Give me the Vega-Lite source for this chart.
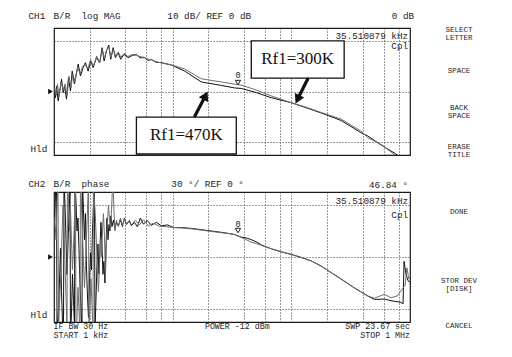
{
  "$schema": "https://vega.github.io/schema/vega-lite/v6.json",
  "background": "white",
  "padding": {"left": 27, "top": 11, "right": 0, "bottom": 0},
  "bounds": "flush",
  "spacing": 37,
  "config": {
    "view": {"stroke": "#1a1a1a", "strokeWidth": 1.2},
    "axis": {"labels": false, "ticks": false, "domain": false, "grid": true, "gridColor": "#3a3a3a", "gridDash": [1, 2], "gridWidth": 1, "gridOpacity": 1}
  },
  "datasets": {
    "mag": [
      {"f":1010,"db":-1,"rf":"470K"},{"f":1030,"db":-4.9,"rf":"470K"},{"f":1050,"db":4.3,"rf":"470K"},{"f":1085,"db":-7.5,"rf":"470K"},{"f":1157,"db":9.6,"rf":"470K"},{"f":1195,"db":-0.9,"rf":"470K"},{"f":1226,"db":4.3,"rf":"470K"},{"f":1274,"db":-6,"rf":"470K"},{"f":1324,"db":10.9,"rf":"470K"},{"f":1377,"db":0.4,"rf":"470K"},{"f":1423,"db":16,"rf":"470K"},{"f":1488,"db":5.9,"rf":"470K"},{"f":1599,"db":21.7,"rf":"470K"},{"f":1671,"db":12.2,"rf":"470K"},{"f":1761,"db":18.8,"rf":"470K"},{"f":1841,"db":22.7,"rf":"470K"},{"f":1940,"db":16,"rf":"470K"},{"f":2040,"db":24,"rf":"470K"},{"f":2137,"db":18.8,"rf":"470K"},{"f":2279,"db":26.6,"rf":"470K"},{"f":2429,"db":22.7,"rf":"470K"},{"f":2544,"db":34.5,"rf":"470K"},{"f":2645,"db":24,"rf":"470K"},{"f":2766,"db":31.9,"rf":"470K"},{"f":2892,"db":36.6,"rf":"470K"},{"f":3006,"db":25.4,"rf":"470K"},{"f":3150,"db":34.5,"rf":"470K"},{"f":3293,"db":26.6,"rf":"470K"},{"f":3470,"db":30.6,"rf":"470K"},{"f":3649,"db":25.4,"rf":"470K"},{"f":3897,"db":29.3,"rf":"470K"},{"f":4211,"db":26.6,"rf":"470K"},{"f":4489,"db":28,"rf":"470K"},{"f":4947,"db":29.3,"rf":"470K"},{"f":5273,"db":26.6,"rf":"470K"},{"f":5807,"db":26.6,"rf":"470K"},{"f":6200,"db":24.5,"rf":"470K"},{"f":6615,"db":25.2,"rf":"470K"},{"f":7200,"db":23,"rf":"470K"},{"f":8029,"db":22.7,"rf":"470K"},{"f":9745,"db":20.9,"rf":"470K"},{"f":12610,"db":16.1,"rf":"470K"},{"f":17430,"db":7.5,"rf":"470K"},{"f":25670,"db":4.8,"rf":"470K"},{"f":33230,"db":2.8,"rf":"470K"},{"f":37840,"db":2.4,"rf":"470K"},{"f":50600,"db":-0.8,"rf":"470K"},{"f":67700,"db":-4.9,"rf":"470K"},{"f":99700,"db":-8.8,"rf":"470K"},{"f":133400,"db":-12.8,"rf":"470K"},{"f":178400,"db":-16.9,"rf":"470K"},{"f":262800,"db":-22.8,"rf":"470K"},{"f":385800,"db":-32.4,"rf":"470K"},{"f":440800,"db":-35,"rf":"470K"},{"f":570500,"db":-42.1,"rf":"470K"},{"f":738000,"db":-48.4,"rf":"470K"},{"f":1000000,"db":-57,"rf":"470K"},
      {"f":1016,"db":2,"rf":"300K"},{"f":1045,"db":-3,"rf":"300K"},{"f":1070,"db":6,"rf":"300K"},{"f":1100,"db":-4,"rf":"300K"},{"f":1150,"db":7,"rf":"300K"},{"f":1200,"db":1,"rf":"300K"},{"f":1240,"db":6,"rf":"300K"},{"f":1290,"db":-3,"rf":"300K"},{"f":1340,"db":12,"rf":"300K"},{"f":1390,"db":3,"rf":"300K"},{"f":1440,"db":14,"rf":"300K"},{"f":1500,"db":8,"rf":"300K"},{"f":1580,"db":19,"rf":"300K"},{"f":1660,"db":14,"rf":"300K"},{"f":1750,"db":20,"rf":"300K"},{"f":1830,"db":21,"rf":"300K"},{"f":1930,"db":18,"rf":"300K"},{"f":2030,"db":25,"rf":"300K"},{"f":2150,"db":20,"rf":"300K"},{"f":2290,"db":28,"rf":"300K"},{"f":2420,"db":23,"rf":"300K"},{"f":2560,"db":33,"rf":"300K"},{"f":2660,"db":26,"rf":"300K"},{"f":2780,"db":33,"rf":"300K"},{"f":2900,"db":35,"rf":"300K"},{"f":3020,"db":27,"rf":"300K"},{"f":3160,"db":33,"rf":"300K"},{"f":3300,"db":28,"rf":"300K"},{"f":3480,"db":31,"rf":"300K"},{"f":3660,"db":27,"rf":"300K"},{"f":3900,"db":30,"rf":"300K"},{"f":4200,"db":27.5,"rf":"300K"},{"f":4500,"db":29,"rf":"300K"},{"f":4950,"db":28.5,"rf":"300K"},{"f":5300,"db":27.5,"rf":"300K"},{"f":5807,"db":26.8,"rf":"300K"},{"f":6200,"db":25.5,"rf":"300K"},{"f":6615,"db":25,"rf":"300K"},{"f":7200,"db":23.5,"rf":"300K"},{"f":8029,"db":22.5,"rf":"300K"},{"f":9745,"db":21,"rf":"300K"},{"f":12610,"db":17.7,"rf":"300K"},{"f":17430,"db":10,"rf":"300K"},{"f":25670,"db":7.5,"rf":"300K"},{"f":33230,"db":5.8,"rf":"300K"},{"f":37840,"db":5.0,"rf":"300K"},{"f":50600,"db":1.2,"rf":"300K"},{"f":67700,"db":-3.5,"rf":"300K"},{"f":99700,"db":-8.8,"rf":"300K"},{"f":133400,"db":-12.4,"rf":"300K"},{"f":178400,"db":-16.5,"rf":"300K"},{"f":262800,"db":-21.7,"rf":"300K"},{"f":385800,"db":-31.1,"rf":"300K"},{"f":440800,"db":-36.4,"rf":"300K"},{"f":570500,"db":-41.6,"rf":"300K"},{"f":738000,"db":-49.5,"rf":"300K"},{"f":1000000,"db":-58,"rf":"300K"}
    ],
    "phase": [
      {"f":1016,"deg":83,"rf":"470K"},{"f":1030,"deg":150,"rf":"470K"},{"f":1050,"deg":170,"rf":"470K"},{"f":1060,"deg":-170,"rf":"470K"},{"f":1091,"deg":-120,"rf":"470K"},{"f":1112,"deg":-60,"rf":"470K"},{"f":1134,"deg":20,"rf":"470K"},{"f":1157,"deg":-80,"rf":"470K"},{"f":1179,"deg":-150,"rf":"470K"},{"f":1202,"deg":-175,"rf":"470K"},{"f":1214,"deg":175,"rf":"470K"},{"f":1238,"deg":120,"rf":"470K"},{"f":1262,"deg":40,"rf":"470K"},{"f":1287,"deg":-40,"rf":"470K"},{"f":1312,"deg":30,"rf":"470K"},{"f":1337,"deg":100,"rf":"470K"},{"f":1364,"deg":160,"rf":"470K"},{"f":1377,"deg":-178,"rf":"470K"},{"f":1404,"deg":-130,"rf":"470K"},{"f":1431,"deg":-40,"rf":"470K"},{"f":1459,"deg":-100,"rf":"470K"},{"f":1488,"deg":-160,"rf":"470K"},{"f":1502,"deg":178,"rf":"470K"},{"f":1532,"deg":130,"rf":"470K"},{"f":1562,"deg":60,"rf":"470K"},{"f":1592,"deg":90,"rf":"470K"},{"f":1623,"deg":20,"rf":"470K"},{"f":1655,"deg":-60,"rf":"470K"},{"f":1688,"deg":-120,"rf":"470K"},{"f":1721,"deg":-178,"rf":"470K"},{"f":1737,"deg":178,"rf":"470K"},{"f":1771,"deg":110,"rf":"470K"},{"f":1806,"deg":40,"rf":"470K"},{"f":1841,"deg":100,"rf":"470K"},{"f":1877,"deg":-20,"rf":"470K"},{"f":1914,"deg":-90,"rf":"470K"},{"f":1952,"deg":-140,"rf":"470K"},{"f":1990,"deg":-60,"rf":"470K"},{"f":2029,"deg":10,"rf":"470K"},{"f":2069,"deg":-30,"rf":"470K"},{"f":2109,"deg":60,"rf":"470K"},{"f":2150,"deg":120,"rf":"470K"},{"f":2192,"deg":170,"rf":"470K"},{"f":2214,"deg":-175,"rf":"470K"},{"f":2257,"deg":-100,"rf":"470K"},{"f":2301,"deg":-20,"rf":"470K"},{"f":2346,"deg":30,"rf":"470K"},{"f":2392,"deg":-40,"rf":"470K"},{"f":2439,"deg":20,"rf":"470K"},{"f":2487,"deg":80,"rf":"470K"},{"f":2535,"deg":30,"rf":"470K"},{"f":2585,"deg":-40,"rf":"470K"},{"f":2636,"deg":-10,"rf":"470K"},{"f":2687,"deg":-60,"rf":"470K"},{"f":2740,"deg":20,"rf":"470K"},{"f":2793,"deg":90,"rf":"470K"},{"f":2848,"deg":40,"rf":"470K"},{"f":2904,"deg":75,"rf":"470K"},{"f":2960,"deg":60,"rf":"470K"},{"f":3018,"deg":95,"rf":"470K"},{"f":3078,"deg":70,"rf":"470K"},{"f":3168,"deg":85,"rf":"470K"},{"f":3262,"deg":65,"rf":"470K"},{"f":3358,"deg":80,"rf":"470K"},{"f":3491,"deg":72,"rf":"470K"},{"f":3629,"deg":86,"rf":"470K"},{"f":3772,"deg":70,"rf":"470K"},{"f":3921,"deg":90,"rf":"470K"},{"f":4076,"deg":75,"rf":"470K"},{"f":4320,"deg":84,"rf":"470K"},{"f":4491,"deg":72,"rf":"470K"},{"f":4760,"deg":80,"rf":"470K"},{"f":5045,"deg":70,"rf":"470K"},{"f":5347,"deg":90,"rf":"470K"},{"f":5667,"deg":76,"rf":"470K"},{"f":6124,"deg":84,"rf":"470K"},{"f":6617,"deg":73,"rf":"470K"},{"f":7291,"deg":80,"rf":"470K"},{"f":8033,"deg":72,"rf":"470K"},{"f":9023,"deg":74,"rf":"470K"},{"f":10135,"deg":68,"rf":"470K"},{"f":11835,"deg":68,"rf":"470K"},{"f":14367,"deg":66,"rf":"470K"},{"f":17440,"deg":63,"rf":"470K"},{"f":21170,"deg":60,"rf":"470K"},{"f":25700,"deg":57,"rf":"470K"},{"f":30010,"deg":54,"rf":"470K"},{"f":33060,"deg":52,"rf":"470K"},{"f":37860,"deg":46,"rf":"470K"},{"f":41720,"deg":44,"rf":"470K"},{"f":45960,"deg":40,"rf":"470K"},{"f":50640,"deg":35,"rf":"470K"},{"f":55790,"deg":28,"rf":"470K"},{"f":67720,"deg":19,"rf":"470K"},{"f":82210,"deg":12,"rf":"470K"},{"f":99800,"deg":6,"rf":"470K"},{"f":121100,"deg":-1,"rf":"470K"},{"f":147100,"deg":-9,"rf":"470K"},{"f":178500,"deg":-21,"rf":"470K"},{"f":216700,"deg":-36,"rf":"470K"},{"f":263100,"deg":-51,"rf":"470K"},{"f":338400,"deg":-71,"rf":"470K"},{"f":441200,"deg":-90,"rf":"470K"},{"f":501400,"deg":-98,"rf":"470K"},{"f":608600,"deg":-97,"rf":"470K"},{"f":692900,"deg":-101,"rf":"470K"},{"f":778000,"deg":-103,"rf":"470K"},{"f":840700,"deg":-105,"rf":"470K"},{"f":874000,"deg":-108,"rf":"470K"},{"f":891000,"deg":-10,"rf":"470K"},{"f":926000,"deg":-40,"rf":"470K"},{"f":962800,"deg":-55,"rf":"470K"},{"f":1000000,"deg":-58,"rf":"470K"},
      {"f":1016,"deg":90,"rf":"300K"},{"f":1040,"deg":40,"rf":"300K"},{"f":1060,"deg":120,"rf":"300K"},{"f":1081,"deg":170,"rf":"300K"},{"f":1091,"deg":-178,"rf":"300K"},{"f":1112,"deg":-110,"rf":"300K"},{"f":1145,"deg":-30,"rf":"300K"},{"f":1168,"deg":50,"rf":"300K"},{"f":1191,"deg":120,"rf":"300K"},{"f":1214,"deg":60,"rf":"300K"},{"f":1238,"deg":-20,"rf":"300K"},{"f":1262,"deg":-90,"rf":"300K"},{"f":1287,"deg":-165,"rf":"300K"},{"f":1299,"deg":175,"rf":"300K"},{"f":1325,"deg":130,"rf":"300K"},{"f":1350,"deg":60,"rf":"300K"},{"f":1377,"deg":110,"rf":"300K"},{"f":1404,"deg":40,"rf":"300K"},{"f":1431,"deg":-30,"rf":"300K"},{"f":1459,"deg":20,"rf":"300K"},{"f":1488,"deg":90,"rf":"300K"},{"f":1517,"deg":150,"rf":"300K"},{"f":1532,"deg":-178,"rf":"300K"},{"f":1562,"deg":-140,"rf":"300K"},{"f":1592,"deg":-70,"rf":"300K"},{"f":1623,"deg":-120,"rf":"300K"},{"f":1655,"deg":-178,"rf":"300K"},{"f":1671,"deg":176,"rf":"300K"},{"f":1704,"deg":120,"rf":"300K"},{"f":1737,"deg":60,"rf":"300K"},{"f":1771,"deg":-10,"rf":"300K"},{"f":1806,"deg":-70,"rf":"300K"},{"f":1841,"deg":-20,"rf":"300K"},{"f":1877,"deg":40,"rf":"300K"},{"f":1914,"deg":110,"rf":"300K"},{"f":1952,"deg":170,"rf":"300K"},{"f":1971,"deg":-172,"rf":"300K"},{"f":2009,"deg":-110,"rf":"300K"},{"f":2049,"deg":-50,"rf":"300K"},{"f":2089,"deg":-110,"rf":"300K"},{"f":2130,"deg":-160,"rf":"300K"},{"f":2150,"deg":178,"rf":"300K"},{"f":2192,"deg":130,"rf":"300K"},{"f":2235,"deg":90,"rf":"300K"},{"f":2279,"deg":30,"rf":"300K"},{"f":2324,"deg":-30,"rf":"300K"},{"f":2369,"deg":-80,"rf":"300K"},{"f":2415,"deg":-20,"rf":"300K"},{"f":2463,"deg":40,"rf":"300K"},{"f":2511,"deg":0,"rf":"300K"},{"f":2560,"deg":60,"rf":"300K"},{"f":2610,"deg":100,"rf":"300K"},{"f":2661,"deg":50,"rf":"300K"},{"f":2713,"deg":-50,"rf":"300K"},{"f":2766,"deg":30,"rf":"300K"},{"f":2821,"deg":80,"rf":"300K"},{"f":2876,"deg":120,"rf":"300K"},{"f":2932,"deg":90,"rf":"300K"},{"f":2989,"deg":60,"rf":"300K"},{"f":3048,"deg":100,"rf":"300K"},{"f":3108,"deg":160,"rf":"300K"},{"f":3138,"deg":178,"rf":"300K"},{"f":3199,"deg":110,"rf":"300K"},{"f":3262,"deg":60,"rf":"300K"},{"f":3358,"deg":85,"rf":"300K"},{"f":3491,"deg":70,"rf":"300K"},{"f":3629,"deg":90,"rf":"300K"},{"f":3772,"deg":72,"rf":"300K"},{"f":3921,"deg":88,"rf":"300K"},{"f":4076,"deg":76,"rf":"300K"},{"f":4237,"deg":82,"rf":"300K"},{"f":4491,"deg":74,"rf":"300K"},{"f":4853,"deg":85,"rf":"300K"},{"f":5244,"deg":74,"rf":"300K"},{"f":5667,"deg":86,"rf":"300K"},{"f":6244,"deg":72,"rf":"300K"},{"f":6879,"deg":78,"rf":"300K"},{"f":7727,"deg":71,"rf":"300K"},{"f":8850,"deg":70,"rf":"300K"},{"f":10135,"deg":68,"rf":"300K"},{"f":11835,"deg":67,"rf":"300K"},{"f":14367,"deg":65,"rf":"300K"},{"f":17440,"deg":62,"rf":"300K"},{"f":21170,"deg":59,"rf":"300K"},{"f":25700,"deg":56,"rf":"300K"},{"f":30010,"deg":54,"rf":"300K"},{"f":33060,"deg":52,"rf":"300K"},{"f":37860,"deg":45,"rf":"300K"},{"f":41720,"deg":40,"rf":"300K"},{"f":45960,"deg":34,"rf":"300K"},{"f":50640,"deg":31,"rf":"300K"},{"f":55790,"deg":27,"rf":"300K"},{"f":67720,"deg":19,"rf":"300K"},{"f":82210,"deg":12,"rf":"300K"},{"f":99800,"deg":6,"rf":"300K"},{"f":121100,"deg":-1,"rf":"300K"},{"f":147100,"deg":-9,"rf":"300K"},{"f":178500,"deg":-21,"rf":"300K"},{"f":216700,"deg":-36,"rf":"300K"},{"f":263100,"deg":-51,"rf":"300K"},{"f":338400,"deg":-71,"rf":"300K"},{"f":441200,"deg":-90,"rf":"300K"},{"f":501400,"deg":-95,"rf":"300K"},{"f":608600,"deg":-86,"rf":"300K"},{"f":692900,"deg":-94,"rf":"300K"},{"f":778000,"deg":-90,"rf":"300K"},{"f":840700,"deg":-78,"rf":"300K"},{"f":908500,"deg":-65,"rf":"300K"},{"f":944000,"deg":-25,"rf":"300K"},{"f":975000,"deg":-50,"rf":"300K"},{"f":1000000,"deg":-48,"rf":"300K"}
    ],
    "topL": [
      {"f":610,"v":59.1,"t":"CH1"},{"f":990,"v":59.1,"t":"B/R"},{"f":1704,"v":59.1,"t":"log MAG"},{"f":9023,"v":59.1,"t":"10 dB/ REF 0 dB"},{"f":634,"v":-45.3,"t":"Hld"}
    ],
    "topR": [
      {"f":1082000,"v":59.1,"t":"0 dB"},{"f":962800,"v":43.7,"t":"35.510879 kHz"},{"f":962800,"v":35.8,"t":"Cpl"}
    ],
    "topSide": [
      {"f":2589000,"v":48.4,"t":"SELECT"},{"f":2589000,"v":42.1,"t":"LETTER"},{"f":2589000,"v":16.1,"t":"SPACE"},{"f":2589000,"v":-13,"t":"BACK"},{"f":2589000,"v":-19.3,"t":"SPACE"},{"f":2589000,"v":-43.7,"t":"ERASE"},{"f":2589000,"v":-50,"t":"TITLE"}
    ],
    "botL": [
      {"f":610,"v":168.5,"t":"CH2"},{"f":990,"v":168.5,"t":"B/R"},{"f":1704,"v":168.5,"t":"phase"},{"f":9750,"v":168.5,"t":"30 °/ REF 0 °"},{"f":634,"v":-133.8,"t":"Hld"}
    ],
    "botR": [
      {"f":962800,"v":166.2,"t":"46.84 °"},{"f":962800,"v":129.2,"t":"35.510879 kHz"},{"f":962800,"v":96.9,"t":"Cpl"}
    ],
    "footL": [
      {"f":990,"v":-160.5,"t":"IF BW 30 Hz"},{"f":990,"v":-183,"t":"START  1 kHz"}
    ],
    "footR": [
      {"f":1001000,"v":-160.5,"t":"SWP 23.67 sec"},{"f":1001000,"v":-183,"t":"STOP  1 MHz"}
    ],
    "footC": [
      {"f":35030,"v":-160.5,"t":"POWER -12 dBm"}
    ],
    "botSide": [
      {"f":2589000,"v":103.8,"t":"DONE"},{"f":2589000,"v":-55.4,"t":"STOR DEV"},{"f":2589000,"v":-73.8,"t":"[DISK]"},{"f":2589000,"v":-159.2,"t":"CANCEL"}
    ],
    "topMarker": [{"f":35510,"v":7,"t":"0","tv":13}],
    "botMarker": [{"f":35510,"v":61,"t":"0","tv":77}],
    "topRef": [{"f":934,"v":0}],
    "botRef": [{"f":934,"v":0}],
    "boxes": [
      {"f1":45960,"f2":278700,"v1":39.8,"v2":10.6,"f":113200,"v":25.2,"t":"Rf1=300K"},
      {"f1":4948,"f2":34370,"v1":-20.1,"v2":-49.2,"f":13040,"v":-34.6,"t":"Rf1=470K"}
    ],
    "arrows": [
      {"a":"300K","f1":138700,"v1":10.6,"f2":114300,"v2":-5.1},
      {"a":"470K","f1":15230,"v1":-20.1,"f2":18660,"v2":-4.3}
    ]
  },
  "vconcat": [
    {
      "width": 356,
      "height": 127,
      "layer": [
        {
          "data": {"name": "mag"},
          "mark": {"type": "line", "clip": true, "strokeWidth": 1},
          "encoding": {
            "x": {"field": "f", "type": "quantitative", "title": null, "scale": {"type": "log", "domain": [1000, 1000000], "nice": false}, "axis": {"values": [2000, 4000, 6000, 8000, 10000, 20000, 40000, 60000, 80000, 100000, 200000, 400000, 600000, 800000]}},
            "y": {"field": "db", "type": "quantitative", "title": null, "scale": {"domain": [-50, 50], "nice": false, "zero": false}, "axis": {"values": [-40, -30, -20, -10, 0, 10, 20, 30, 40]}},
            "color": {"field": "rf", "type": "nominal", "scale": {"domain": ["470K", "300K"], "range": ["#111111", "#6e6e6e"]}, "legend": null}
          }
        },
        {
          "data": {"name": "topMarker"},
          "mark": {"type": "point", "shape": "triangle-down", "size": 28, "filled": false, "color": "#222", "strokeWidth": 1, "opacity": 1},
          "encoding": {
            "x": {"field": "f", "type": "quantitative", "title": null, "scale": {"type": "log", "domain": [1000, 1000000], "nice": false}},
            "y": {"field": "v", "type": "quantitative", "title": null, "scale": {"domain": [-50, 50], "nice": false, "zero": false}}
          }
        },
        {
          "data": {"name": "topMarker"},
          "mark": {"type": "text", "font": "Liberation Mono", "fontSize": 8.5, "color": "#222", "baseline": "middle", "align": "center"},
          "encoding": {
            "x": {"field": "f", "type": "quantitative", "title": null, "scale": {"type": "log", "domain": [1000, 1000000], "nice": false}},
            "y": {"field": "tv", "type": "quantitative", "title": null, "scale": {"domain": [-50, 50], "nice": false, "zero": false}},
            "text": {"field": "t"}
          }
        },
        {
          "data": {"name": "topRef"},
          "mark": {"type": "point", "shape": "triangle-right", "size": 30, "filled": true, "color": "#111", "opacity": 1},
          "encoding": {
            "x": {"field": "f", "type": "quantitative", "title": null, "scale": {"type": "log", "domain": [1000, 1000000], "nice": false}},
            "y": {"field": "v", "type": "quantitative", "title": null, "scale": {"domain": [-50, 50], "nice": false, "zero": false}}
          }
        },
        {
          "data": {"name": "boxes"},
          "mark": {"type": "rect", "fill": "white", "stroke": "#111", "strokeWidth": 1.3},
          "encoding": {
            "x": {"field": "f1", "type": "quantitative", "title": null, "scale": {"type": "log", "domain": [1000, 1000000], "nice": false}},
            "x2": {"field": "f2"},
            "y": {"field": "v1", "type": "quantitative", "title": null, "scale": {"domain": [-50, 50], "nice": false, "zero": false}},
            "y2": {"field": "v2"}
          }
        },
        {
          "data": {"name": "boxes"},
          "mark": {"type": "text", "font": "Liberation Serif", "fontSize": 17, "color": "#111", "align": "center", "baseline": "middle"},
          "encoding": {
            "x": {"field": "f", "type": "quantitative", "title": null, "scale": {"type": "log", "domain": [1000, 1000000], "nice": false}},
            "y": {"field": "v", "type": "quantitative", "title": null, "scale": {"domain": [-50, 50], "nice": false, "zero": false}},
            "text": {"field": "t"}
          }
        },
        {
          "data": {"name": "arrows"},
          "mark": {"type": "rule", "strokeWidth": 3.2, "color": "#111"},
          "encoding": {
            "x": {"field": "f1", "type": "quantitative", "title": null, "scale": {"type": "log", "domain": [1000, 1000000], "nice": false}},
            "x2": {"field": "f2"},
            "y": {"field": "v1", "type": "quantitative", "title": null, "scale": {"domain": [-50, 50], "nice": false, "zero": false}},
            "y2": {"field": "v2"}
          }
        },
        {
          "data": {"name": "arrows"},
          "transform": [{"filter": "datum.a === '300K'"}],
          "mark": {"type": "point", "shape": "triangle", "size": 110, "filled": true, "color": "#111", "opacity": 1, "angle": 206},
          "encoding": {
            "x": {"field": "f2", "type": "quantitative", "title": null, "scale": {"type": "log", "domain": [1000, 1000000], "nice": false}},
            "y": {"field": "v2", "type": "quantitative", "title": null, "scale": {"domain": [-50, 50], "nice": false, "zero": false}}
          }
        },
        {
          "data": {"name": "arrows"},
          "transform": [{"filter": "datum.a === '470K'"}],
          "mark": {"type": "point", "shape": "triangle", "size": 110, "filled": true, "color": "#111", "opacity": 1, "angle": 28},
          "encoding": {
            "x": {"field": "f2", "type": "quantitative", "title": null, "scale": {"type": "log", "domain": [1000, 1000000], "nice": false}},
            "y": {"field": "v2", "type": "quantitative", "title": null, "scale": {"domain": [-50, 50], "nice": false, "zero": false}}
          }
        },
        {
          "data": {"name": "topL"},
          "mark": {"type": "text", "font": "Liberation Mono", "fontSize": 9.3, "color": "#1e1e1e", "align": "left", "baseline": "middle"},
          "encoding": {
            "x": {"field": "f", "type": "quantitative", "title": null, "scale": {"type": "log", "domain": [1000, 1000000], "nice": false}},
            "y": {"field": "v", "type": "quantitative", "title": null, "scale": {"domain": [-50, 50], "nice": false, "zero": false}},
            "text": {"field": "t"}
          }
        },
        {
          "data": {"name": "topR"},
          "mark": {"type": "text", "font": "Liberation Mono", "fontSize": 9.3, "color": "#1e1e1e", "align": "right", "baseline": "middle"},
          "encoding": {
            "x": {"field": "f", "type": "quantitative", "title": null, "scale": {"type": "log", "domain": [1000, 1000000], "nice": false}},
            "y": {"field": "v", "type": "quantitative", "title": null, "scale": {"domain": [-50, 50], "nice": false, "zero": false}},
            "text": {"field": "t"}
          }
        },
        {
          "data": {"name": "topSide"},
          "mark": {"type": "text", "font": "Liberation Mono", "fontSize": 7.5, "color": "#1e1e1e", "align": "center", "baseline": "middle"},
          "encoding": {
            "x": {"field": "f", "type": "quantitative", "title": null, "scale": {"type": "log", "domain": [1000, 1000000], "nice": false}},
            "y": {"field": "v", "type": "quantitative", "title": null, "scale": {"domain": [-50, 50], "nice": false, "zero": false}},
            "text": {"field": "t"}
          }
        }
      ]
    },
    {
      "width": 356,
      "height": 130,
      "layer": [
        {
          "data": {"name": "phase"},
          "mark": {"type": "line", "clip": true, "strokeWidth": 1},
          "encoding": {
            "x": {"field": "f", "type": "quantitative", "title": null, "scale": {"type": "log", "domain": [1000, 1000000], "nice": false}, "axis": {"values": [2000, 4000, 6000, 8000, 10000, 20000, 40000, 60000, 80000, 100000, 200000, 400000, 600000, 800000]}},
            "y": {"field": "deg", "type": "quantitative", "title": null, "scale": {"domain": [-150, 150], "nice": false, "zero": false}, "axis": {"values": [-120, -90, -60, -30, 0, 30, 60, 90, 120]}},
            "color": {"field": "rf", "type": "nominal", "scale": {"domain": ["470K", "300K"], "range": ["#111111", "#6e6e6e"]}, "legend": null}
          }
        },
        {
          "data": {"name": "botMarker"},
          "mark": {"type": "point", "shape": "triangle-down", "size": 28, "filled": false, "color": "#222", "strokeWidth": 1, "opacity": 1},
          "encoding": {
            "x": {"field": "f", "type": "quantitative", "title": null, "scale": {"type": "log", "domain": [1000, 1000000], "nice": false}},
            "y": {"field": "v", "type": "quantitative", "title": null, "scale": {"domain": [-150, 150], "nice": false, "zero": false}}
          }
        },
        {
          "data": {"name": "botMarker"},
          "mark": {"type": "text", "font": "Liberation Mono", "fontSize": 8.5, "color": "#222", "baseline": "middle", "align": "center"},
          "encoding": {
            "x": {"field": "f", "type": "quantitative", "title": null, "scale": {"type": "log", "domain": [1000, 1000000], "nice": false}},
            "y": {"field": "tv", "type": "quantitative", "title": null, "scale": {"domain": [-150, 150], "nice": false, "zero": false}},
            "text": {"field": "t"}
          }
        },
        {
          "data": {"name": "botRef"},
          "mark": {"type": "point", "shape": "triangle-right", "size": 30, "filled": true, "color": "#111", "opacity": 1},
          "encoding": {
            "x": {"field": "f", "type": "quantitative", "title": null, "scale": {"type": "log", "domain": [1000, 1000000], "nice": false}},
            "y": {"field": "v", "type": "quantitative", "title": null, "scale": {"domain": [-150, 150], "nice": false, "zero": false}}
          }
        },
        {
          "data": {"name": "botL"},
          "mark": {"type": "text", "font": "Liberation Mono", "fontSize": 9.3, "color": "#1e1e1e", "align": "left", "baseline": "middle"},
          "encoding": {
            "x": {"field": "f", "type": "quantitative", "title": null, "scale": {"type": "log", "domain": [1000, 1000000], "nice": false}},
            "y": {"field": "v", "type": "quantitative", "title": null, "scale": {"domain": [-150, 150], "nice": false, "zero": false}},
            "text": {"field": "t"}
          }
        },
        {
          "data": {"name": "botR"},
          "mark": {"type": "text", "font": "Liberation Mono", "fontSize": 9.3, "color": "#1e1e1e", "align": "right", "baseline": "middle"},
          "encoding": {
            "x": {"field": "f", "type": "quantitative", "title": null, "scale": {"type": "log", "domain": [1000, 1000000], "nice": false}},
            "y": {"field": "v", "type": "quantitative", "title": null, "scale": {"domain": [-150, 150], "nice": false, "zero": false}},
            "text": {"field": "t"}
          }
        },
        {
          "data": {"name": "footL"},
          "mark": {"type": "text", "font": "Liberation Mono", "fontSize": 8.3, "color": "#1e1e1e", "align": "left", "baseline": "middle"},
          "encoding": {
            "x": {"field": "f", "type": "quantitative", "title": null, "scale": {"type": "log", "domain": [1000, 1000000], "nice": false}},
            "y": {"field": "v", "type": "quantitative", "title": null, "scale": {"domain": [-150, 150], "nice": false, "zero": false}},
            "text": {"field": "t"}
          }
        },
        {
          "data": {"name": "footR"},
          "mark": {"type": "text", "font": "Liberation Mono", "fontSize": 8.3, "color": "#1e1e1e", "align": "right", "baseline": "middle"},
          "encoding": {
            "x": {"field": "f", "type": "quantitative", "title": null, "scale": {"type": "log", "domain": [1000, 1000000], "nice": false}},
            "y": {"field": "v", "type": "quantitative", "title": null, "scale": {"domain": [-150, 150], "nice": false, "zero": false}},
            "text": {"field": "t"}
          }
        },
        {
          "data": {"name": "footC"},
          "mark": {"type": "text", "font": "Liberation Mono", "fontSize": 8.3, "color": "#1e1e1e", "align": "center", "baseline": "middle"},
          "encoding": {
            "x": {"field": "f", "type": "quantitative", "title": null, "scale": {"type": "log", "domain": [1000, 1000000], "nice": false}},
            "y": {"field": "v", "type": "quantitative", "title": null, "scale": {"domain": [-150, 150], "nice": false, "zero": false}},
            "text": {"field": "t"}
          }
        },
        {
          "data": {"name": "botSide"},
          "mark": {"type": "text", "font": "Liberation Mono", "fontSize": 7.5, "color": "#1e1e1e", "align": "center", "baseline": "middle"},
          "encoding": {
            "x": {"field": "f", "type": "quantitative", "title": null, "scale": {"type": "log", "domain": [1000, 1000000], "nice": false}},
            "y": {"field": "v", "type": "quantitative", "title": null, "scale": {"domain": [-150, 150], "nice": false, "zero": false}},
            "text": {"field": "t"}
          }
        }
      ]
    }
  ]
}
